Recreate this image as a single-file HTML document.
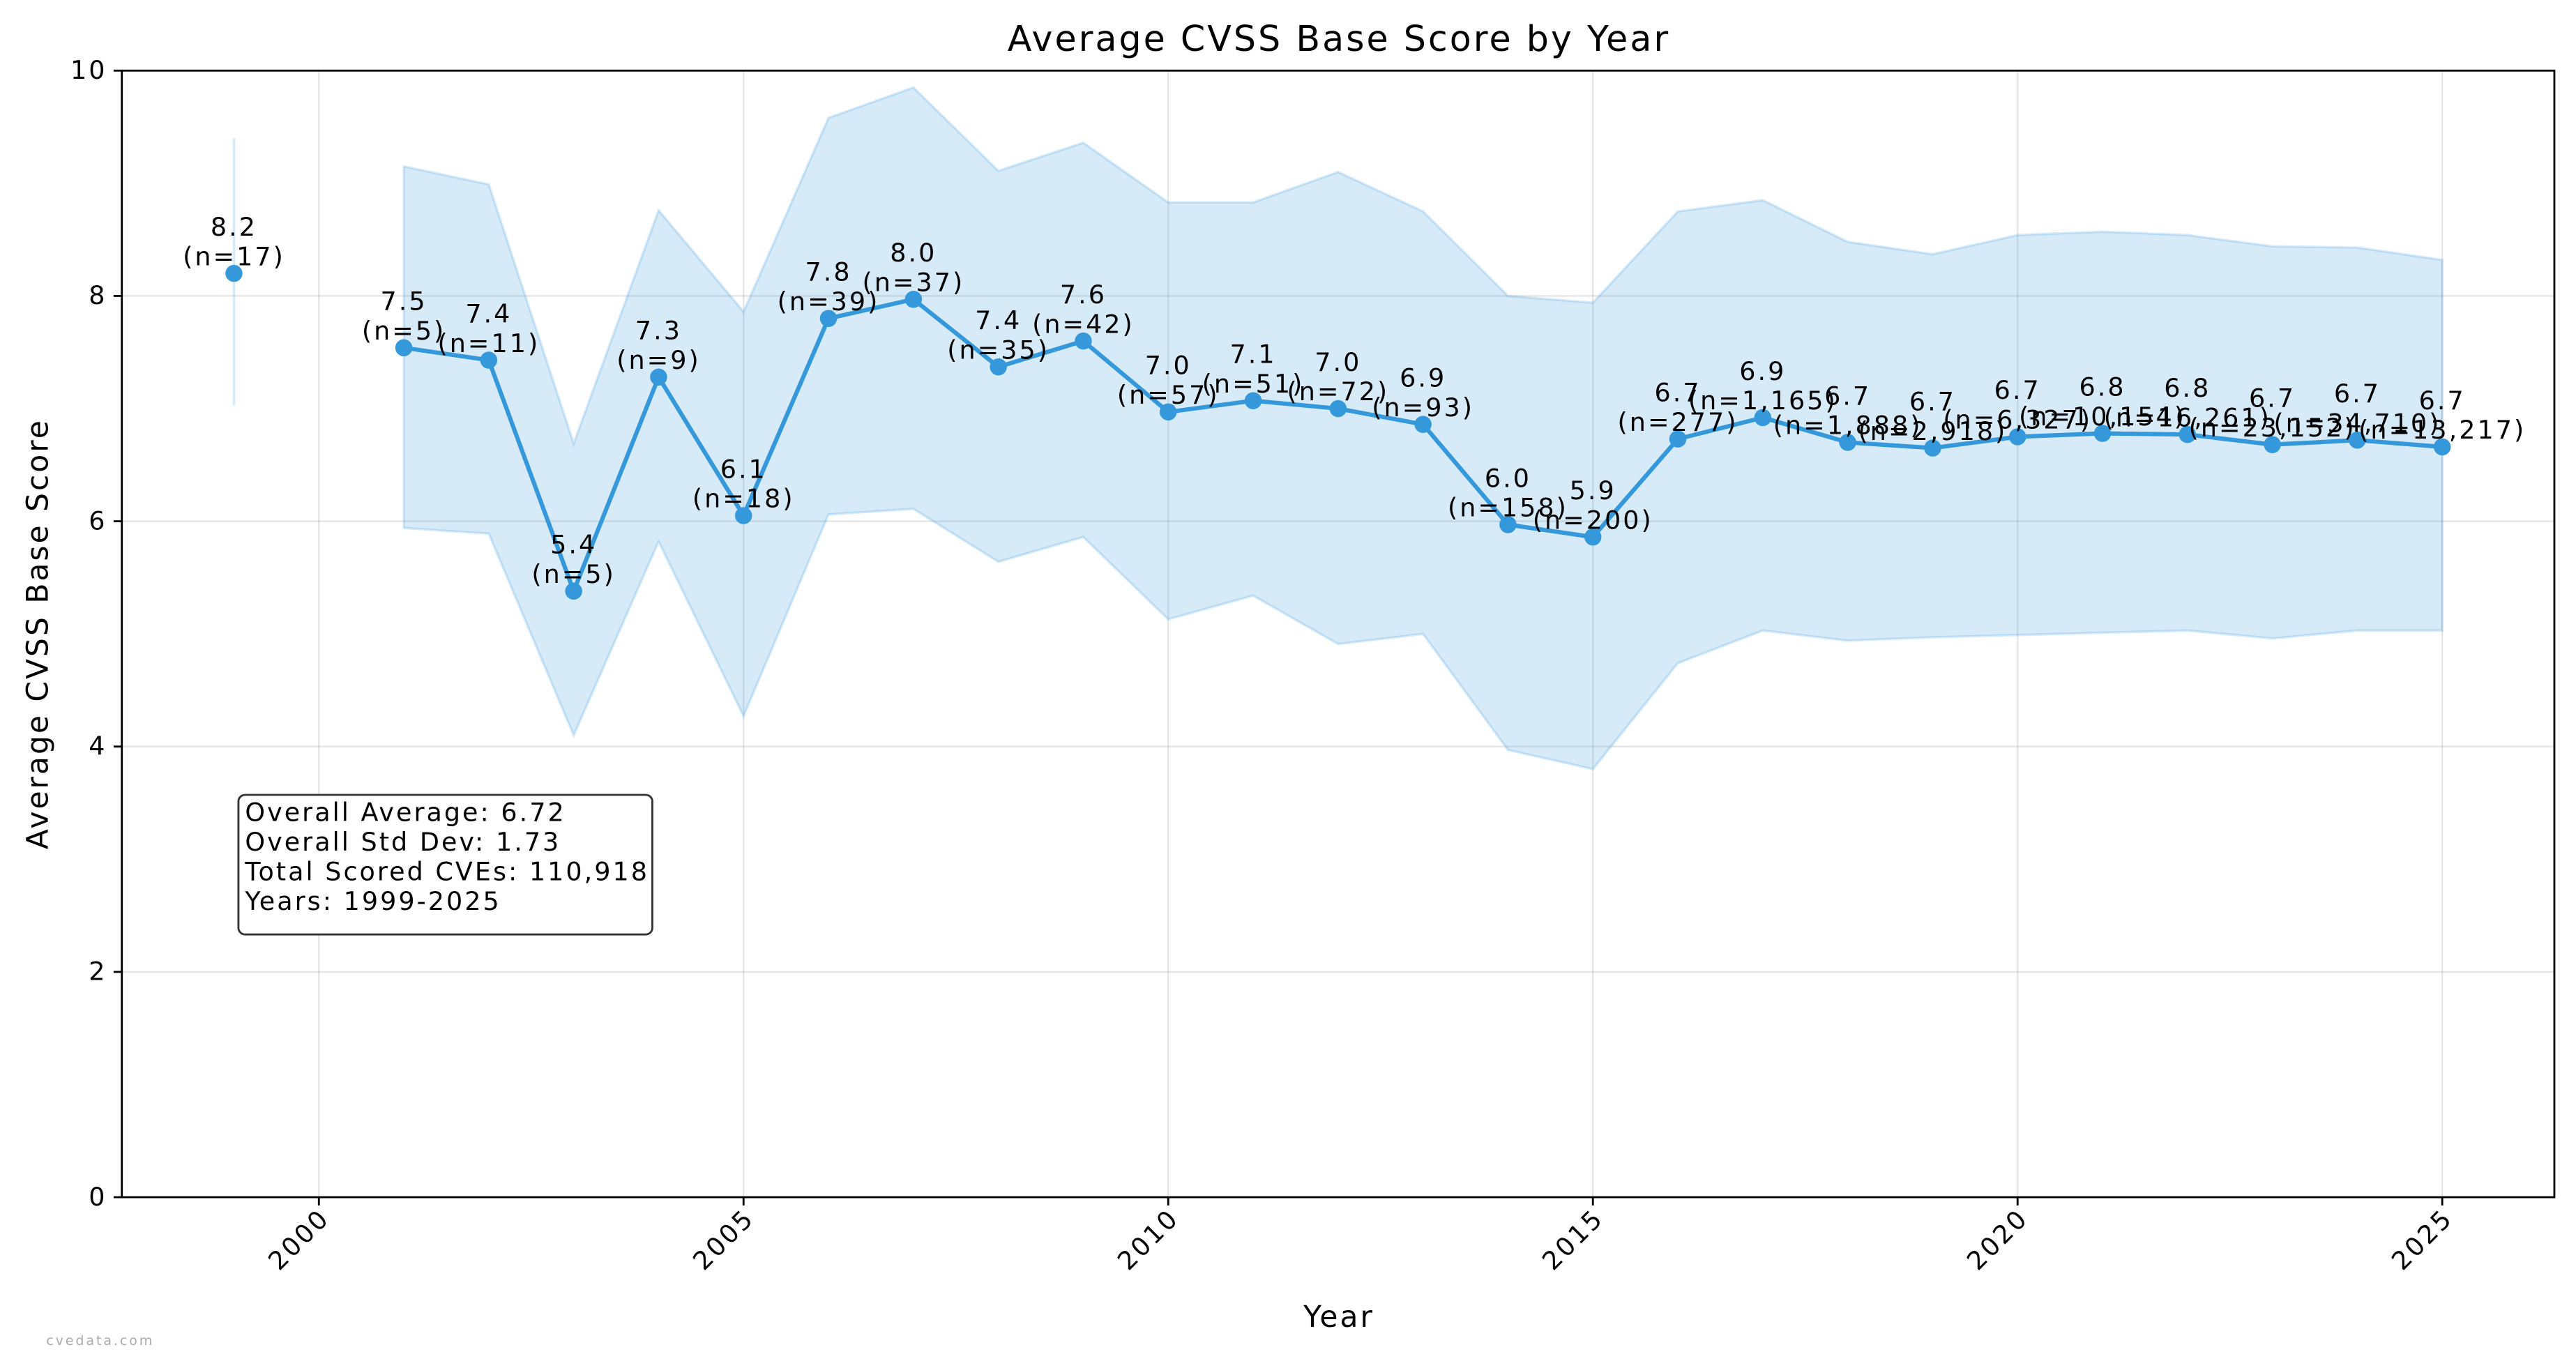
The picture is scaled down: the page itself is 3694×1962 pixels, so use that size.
<!DOCTYPE html>
<html><head><meta charset="utf-8"><style>
html,body{margin:0;padding:0;background:#fff}
svg{display:block;font-family:"DejaVu Sans","Liberation Sans",sans-serif;letter-spacing:0.08em}
</style></head><body>
<svg id="chart" width="3694" height="1962" viewBox="0 0 1568 833" xmlns="http://www.w3.org/2000/svg">
<rect width="1568" height="833" fill="#fff"/>
<g id="grid"></g>
<g id="band"></g>
<g id="series"></g>
<g id="labels"></g>
<g id="axes"></g>
<text x="815" y="31" text-anchor="middle" font-size="21.5">Average CVSS Base Score by Year</text>
<text x="815" y="808" text-anchor="middle" font-size="18">Year</text>
<text transform="translate(29,386) rotate(-90)" text-anchor="middle" font-size="18">Average CVSS Base Score</text>
<g>
<rect x="145" y="484" width="252" height="85" rx="4" fill="#fff" stroke="#333" stroke-width="1.2"/>
<text x="149" y="500" font-size="15.5">Overall Average: 6.72</text>
<text x="149" y="518" font-size="15.5">Overall Std Dev: 1.73</text>
<text x="149" y="536" font-size="15.5">Total Scored CVEs: 110,918</text>
<text x="149" y="554" font-size="15.5">Years: 1999-2025</text>
</g>
<text x="28" y="819" font-size="8" fill="#aaa">cvedata.com</text>
</svg>
<script>
const years=[1999,2001,2002,2003,2004,2005,2006,2007,2008,2009,2010,2011,2012,2013,2014,2015,2016,2017,2018,2019,2020,2021,2022,2023,2024,2025];
const means=[8.2,7.54,7.43,5.38,7.28,6.05,7.80,7.97,7.37,7.60,6.97,7.07,7.00,6.86,5.97,5.86,6.73,6.92,6.70,6.65,6.75,6.78,6.77,6.68,6.72,6.66];
const upper=[9.4,9.15,8.99,6.69,8.76,7.86,9.58,9.85,9.11,9.36,8.83,8.83,9.10,8.75,8.00,7.94,8.75,8.85,8.48,8.37,8.54,8.57,8.54,8.44,8.43,8.32];
const lower=[7.03,5.94,5.89,4.10,5.82,4.27,6.06,6.11,5.64,5.86,5.13,5.34,4.91,5.00,3.97,3.80,4.74,5.03,4.94,4.97,4.99,5.01,5.03,4.96,5.03,5.03];
const valueLabels=["8.2","7.5","7.4","5.4","7.3","6.1","7.8","8.0","7.4","7.6","7.0","7.1","7.0","6.9","6.0","5.9","6.7","6.9","6.7","6.7","6.7","6.8","6.8","6.7","6.7","6.7"];
const countLabels=["17","5","11","5","9","18","39","37","35","42","57","51","72","93","158","200","277","1,165","1,888","2,918","6,327","10,154","16,261","23,152","34,710","13,217"];
const xTicks=[2000,2005,2010,2015,2020,2025];
const yTicks=[0,2,4,6,8,10];

const L=74,R=1555,T=43,B=729;
const X0=1997.68,X1=2026.32;
const xs=v=>L+(v-X0)/(X1-X0)*(R-L);
const ys=v=>B-(v/10)*(B-T);
const NS="http://www.w3.org/2000/svg";
function mk(tag,attrs,parent){const e=document.createElementNS(NS,tag);for(const k in attrs)e.setAttribute(k,attrs[k]);parent.appendChild(e);return e;}
const grid=document.getElementById('grid'),band=document.getElementById('band'),series=document.getElementById('series'),labels=document.getElementById('labels'),axes=document.getElementById('axes');

xTicks.forEach(t=>{const l=mk('line',{x1:xs(t),x2:xs(t),y1:T,y2:B,stroke:'#000','stroke-opacity':0.1,'stroke-width':1},grid);

});
yTicks.forEach(t=>{const l=mk('line',{x1:L,x2:R,y1:ys(t),y2:ys(t),stroke:'#000','stroke-opacity':0.1,'stroke-width':1},grid);

});

const e0=mk('line',{x1:xs(years[0]),x2:xs(years[0]),y1:ys(upper[0]),y2:ys(lower[0]),stroke:'#3498db','stroke-opacity':0.2,'stroke-width':1.5},band);


let pts=[];
for(let i=1;i<years.length;i++)pts.push(xs(years[i])+','+ys(upper[i]));
for(let i=years.length-1;i>=1;i--)pts.push(xs(years[i])+','+ys(lower[i]));
const poly=mk('polygon',{points:pts.join(' '),fill:'#3498db','fill-opacity':0.2,stroke:'#3498db','stroke-opacity':0.2,'stroke-width':1.5},band);



let lp=[];for(let i=1;i<years.length;i++)lp.push(xs(years[i])+','+ys(means[i]));
const pl=mk('polyline',{points:lp.join(' '),fill:'none',stroke:'#3498db','stroke-width':2.6,'stroke-linejoin':'round'},series);


years.forEach((y,i)=>{
 const c=mk('circle',{cx:xs(y),cy:ys(means[i]),r:5.2,fill:'#3498db'},series);
 
 
 const t1=mk('text',{x:xs(y),y:ys(means[i])-23,'text-anchor':'middle','font-size':15.5},labels);t1.textContent=valueLabels[i];
 
 
 const t2=mk('text',{x:xs(y),y:ys(means[i])-5,'text-anchor':'middle','font-size':15.5},labels);t2.textContent='(n='+countLabels[i]+')';
 
 
});

const fr=mk('rect',{x:L,y:T,width:R-L,height:B-T,fill:'none',stroke:'#000','stroke-width':1.2},axes);


yTicks.forEach(t=>{
 const k=mk('line',{x1:L-5,x2:L,y1:ys(t),y2:ys(t),stroke:'#000','stroke-width':1.2},axes);
 
 
 const tx=mk('text',{x:L-9,y:ys(t)+5,'text-anchor':'end','font-size':15.5},axes);tx.textContent=t;
 
 
});
xTicks.forEach(t=>{
 const k=mk('line',{x1:xs(t),x2:xs(t),y1:B,y2:B+5,stroke:'#000','stroke-width':1.2},axes);
 
 
 const cx=xs(t)-12,cy=B+26;
 const tx=mk('text',{x:cx,y:cy+5,'text-anchor':'middle','font-size':15.5,transform:'rotate(-45 '+cx+' '+cy+')'},axes);tx.textContent=t;
 
 
});
</script>
</body></html>
